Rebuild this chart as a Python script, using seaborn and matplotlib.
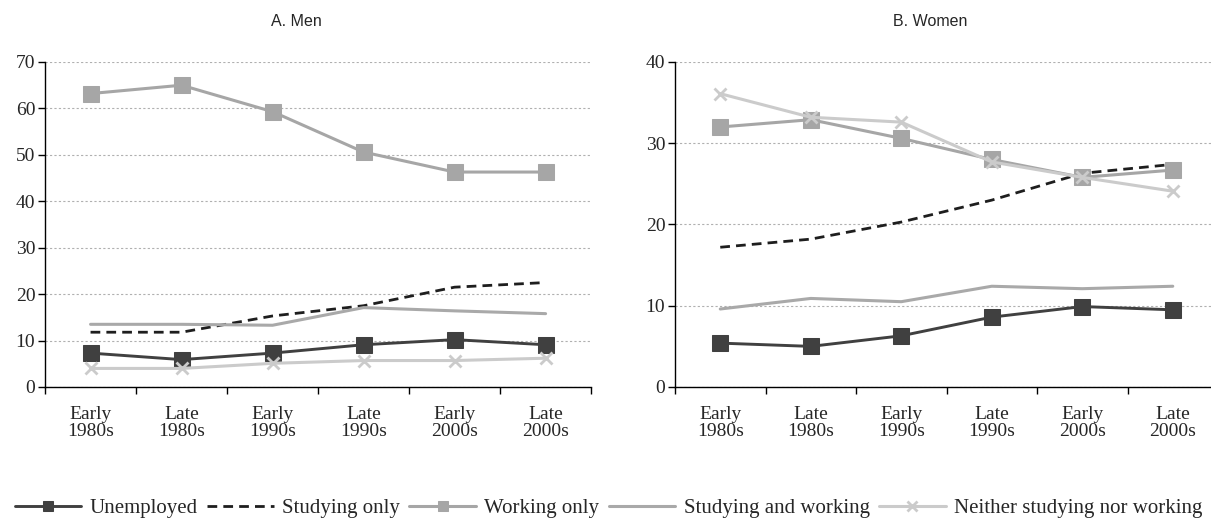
import numpy as np
import pandas as pd
import seaborn as sns
import matplotlib.pyplot as plt
from matplotlib.ticker import FixedLocator

periods = ["Early\n1980s", "Late\n1980s", "Early\n1990s", "Late\n1990s", "Early\n2000s", "Late\n2000s"]
series_names = ["Unemployed", "Studying only", "Working only", "Studying and working", "Neither studying nor working"]

men_unemployed = [7.3, 5.9, 7.3, 9.1, 10.2, 9.1]
men_studying = [11.8, 11.8, 15.3, 17.5, 21.5, 22.5]
men_working = [63.2, 65.0, 59.3, 50.6, 46.3, 46.3]
men_study_work = [13.5, 13.5, 13.3, 17.1, 16.4, 15.8]
men_neither = [4.0, 4.0, 5.1, 5.7, 5.7, 6.2]

women_unemployed = [5.4, 5.0, 6.3, 8.6, 9.9, 9.5]
women_studying = [17.2, 18.2, 20.3, 23.0, 26.3, 27.4]
women_working = [32.0, 32.9, 30.6, 28.0, 25.8, 26.7]
women_study_work = [9.6, 10.9, 10.5, 12.4, 12.1, 12.4]
women_neither = [36.1, 33.2, 32.6, 27.7, 25.8, 24.1]

styles = {
    "Unemployed": dict(color="#404040", linestyle="-", marker="s", markersize=11.5,
                       markeredgecolor="#404040", linewidth=2.1),
    "Studying only": dict(color="#1e1e1e", linestyle=(0, (3.5, 2.2)), marker=None, linewidth=2.0),
    "Working only": dict(color="#a6a6a6", linestyle="-", marker="s", markersize=11.5,
                         markeredgecolor="#a6a6a6", linewidth=2.2),
    "Studying and working": dict(color="#a9a9a9", linestyle="-", marker=None, linewidth=2.2),
    "Neither studying nor working": dict(color="#cbcbcb", linestyle="-", marker="x", markersize=9,
                                         markeredgecolor="#cbcbcb", markeredgewidth=2.0, linewidth=2.2),
}

panels = [
    ("A. Men", [men_unemployed, men_studying, men_working, men_study_work, men_neither], 70, 10),
    ("B. Women", [women_unemployed, women_studying, women_working, women_study_work, women_neither], 40, 10),
]

sns.set_theme(style="white")
plt.rcParams["font.family"] = ["Liberation Serif", "DejaVu Serif"]

fig = plt.figure(figsize=(12.11, 5.21), dpi=100)
ax_men = fig.add_axes([0.0372, 0.2572, 0.4509, 0.6238])
ax_women = fig.add_axes([0.5574, 0.2572, 0.4484, 0.6238])
title_x = [0.2444, 0.768]

pos = np.arange(len(periods))
for ax, (title, values, ymax, step), tx in zip([ax_men, ax_women], panels, title_x):
    df = pd.DataFrame({"pos": np.tile(pos, len(series_names)),
                       "value": np.concatenate(values),
                       "series": np.repeat(series_names, len(periods))})
    for name in series_names:
        sub = df[df["series"] == name]
        sns.lineplot(data=sub, x="pos", y="value", ax=ax, label=name, **styles[name])
    ax.set_xlim(-0.5, len(periods) - 0.5)
    ax.set_ylim(0, ymax)
    ax.set_yticks(np.arange(0, ymax + 1, step))
    ax.set_xticks(pos)
    ax.set_xticklabels(periods, fontsize=14, linespacing=0.95)
    ax.xaxis.set_minor_locator(FixedLocator(np.arange(-0.5, len(periods), 1.0)))
    ax.tick_params(axis="x", which="major", length=0, pad=14)
    ax.tick_params(axis="x", which="minor", length=5, width=1, color="black", direction="out", bottom=True)
    ax.tick_params(axis="y", length=5, width=1, color="black", direction="out", left=True, labelsize=14, pad=2)
    ax.yaxis.grid(True, linestyle=(0, (2, 2)), color="#b0b0b0", linewidth=0.8)
    ax.set_axisbelow(True)
    for s in ["top", "right"]:
        ax.spines[s].set_visible(False)
    for s in ["left", "bottom"]:
        ax.spines[s].set_color("black")
        ax.spines[s].set_linewidth(1.0)
    ax.set_xlabel("")
    ax.set_ylabel("")
    handles, labels = ax.get_legend_handles_labels()
    ax.get_legend().remove()
    fig.text(tx, 0.958, title, ha="center", va="center", fontsize=11.5,
             family=["Liberation Sans", "DejaVu Sans"])

leg = fig.legend(handles, labels, loc="center left", bbox_to_anchor=(0.012, 0.024), ncol=5,
                 frameon=False, fontsize=15, handlelength=3.2, handletextpad=0.4,
                 columnspacing=0.45, borderaxespad=0, borderpad=0)
for line in leg.get_lines():
    line.set_markersize(7)

fig.savefig("out.png", dpi=100)
